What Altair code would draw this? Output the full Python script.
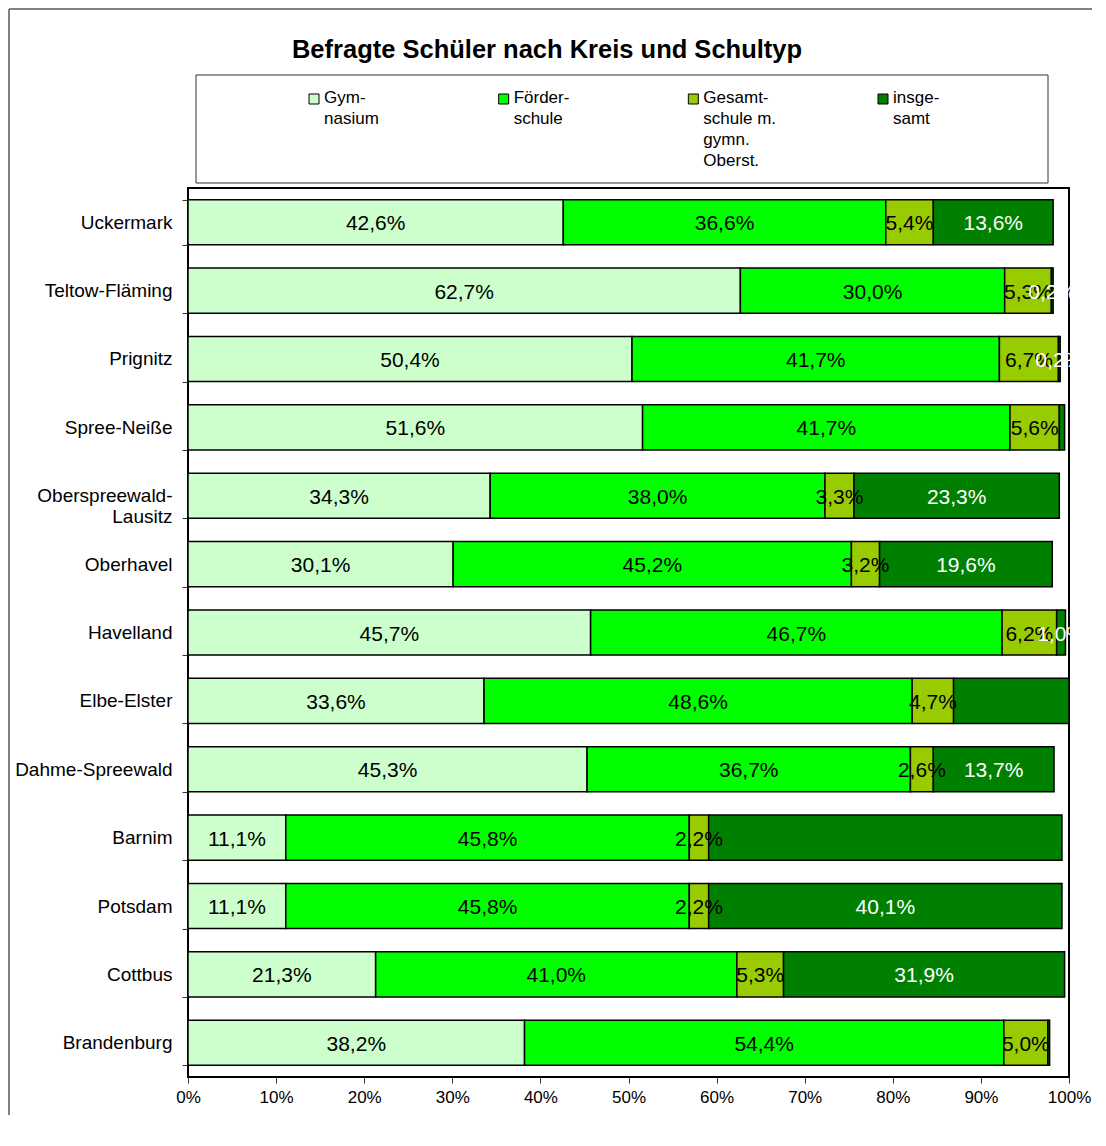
import altair as alt
import pandas as pd

districts = ["Uckermark", "Teltow-Fläming", "Prignitz", "Spree-Neiße",
             "Oberspreewald-Lausitz", "Oberhavel", "Havelland", "Elbe-Elster",
             "Dahme-Spreewald", "Barnim", "Potsdam", "Cottbus", "Brandenburg"]
types = ["Gymnasium", "Förderschule", "Gesamtschule m. gymn. Oberst.", "insgesamt"]
legend_labels = ["Gym-\nnasium", "Förder-\nschule", "Gesamt-\nschule m.\ngymn.\nOberst.", "insge-\nsamt"]
colors = ["#CCFFCC", "#00FF00", "#99CC00", "#008000"]
label_colors = ["black", "black", "black", "white"]

gymnasium = [42.6, 62.7, 50.4, 51.6, 34.3, 30.1, 45.7, 33.6, 45.3, 11.1, 11.1, 21.3, 38.2]
foerderschule = [36.6, 30.0, 41.7, 41.7, 38.0, 45.2, 46.7, 48.6, 36.7, 45.8, 45.8, 41.0, 54.4]
gesamtschule = [5.4, 5.3, 6.7, 5.6, 3.3, 3.2, 6.2, 4.7, 2.6, 2.2, 2.2, 5.3, 5.0]
insgesamt = [13.6, 0.2, 0.2, 0.6, 23.3, 19.6, 1.0, 13.1, 13.7, 40.1, 40.1, 31.9, 0.2]
# segments whose value label is not shown in the original
hidden_labels = {("Spree-Neiße", "insgesamt"), ("Elbe-Elster", "insgesamt"),
                 ("Barnim", "insgesamt"), ("Brandenburg", "insgesamt")}

series = [gymnasium, foerderschule, gesamtschule, insgesamt]
rows = []
for i, d in enumerate(districts):
    for k, t in enumerate(types):
        v = series[k][i]
        lab = "" if (d, t) in hidden_labels else f"{v:.1f}".replace(".", ",") + "%"
        rows.append({"district": d, "type": t, "order": k, "value": v,
                     "label": lab, "tcolor": label_colors[k]})
df = pd.DataFrame(rows)

leg_df = pd.DataFrame({"type": types, "legend_label": legend_labels})
one = pd.DataFrame({"a": [0]})

color_scale = alt.Scale(domain=types, range=colors)
nb = "\u00a0" * 8
y_label_expr = ("datum.label == 'Oberspreewald-Lausitz' ? "
                "['Oberspreewald-', 'Lausitz" + nb + "'] : datum.label")

base = alt.Chart(df).transform_stack(
    stack="value", groupby=["district"], sort=[alt.SortField("order")], as_=["x0", "x1"]
).transform_calculate(mid="(datum.x0 + datum.x1) / 2")

y_enc = alt.Y("district:N", sort=districts,
              scale=alt.Scale(paddingInner=0.34, paddingOuter=0.17),
              axis=alt.Axis(title=None, domain=False, ticks=True, tickBand="extent",
                            tickSize=6, tickColor="#333", labelPadding=10,
                            labelFontSize=19, labelColor="black",
                            labelLineHeight=21, labelExpr=y_label_expr))

bars = base.mark_bar(stroke="black", strokeWidth=1.5).encode(
    y=y_enc,
    x=alt.X("x0:Q", scale=alt.Scale(domain=[0, 100], nice=False),
            axis=alt.Axis(title=None, values=list(range(0, 101, 10)),
                          labelExpr="datum.value + '%'", domain=False, grid=False,
                          labelFlush=False, labelOverlap=False,
                          tickSize=6, tickColor="#333", labelFontSize=17,
                          labelPadding=6, labelColor="black")),
    x2="x1:Q",
    color=alt.Color("type:N", scale=color_scale, legend=None),
)

seg_text = base.mark_text(fontSize=21, baseline="middle", dy=2).encode(
    y=alt.Y("district:N", sort=districts),
    x=alt.X("mid:Q"),
    text="label:N",
    color=alt.Color("tcolor:N", scale=None),
)

bar_chart = alt.layer(bars, seg_text).properties(
    width=881, height=889,
    view=alt.ViewBackground(stroke="black", strokeWidth=2),
)

# legend panel (with title and outer frame as decoration)
leg_x = alt.X("type:N", sort=types, scale=alt.Scale(type="point", domain=types,
                                                    range=[126, 695], padding=0), axis=None)
symbols = alt.Chart(leg_df).mark_square(size=100, filled=True, stroke="black",
                                        strokeWidth=1, opacity=1).encode(
    x=leg_x, y=alt.value(24),
    color=alt.Color("type:N", scale=color_scale, legend=None),
)
leg_text = alt.Chart(leg_df).mark_text(align="left", baseline="top", dx=10,
                                       lineBreak="\n", lineHeight=21,
                                       fontSize=17, color="black").encode(
    x=leg_x, y=alt.value(15), text="legend_label:N",
)
box = alt.Chart(one).mark_rect(filled=False, stroke="#333", strokeWidth=1).encode(
    x=alt.value(8), x2=alt.value(860), y=alt.value(0), y2=alt.value(108)
)
title = alt.Chart(one).mark_text(text="Befragte Schüler nach Kreis und Schultyp",
                                 fontSize=25.5, fontWeight="bold", color="black",
                                 baseline="middle", align="center").encode(
    x=alt.value(359), y=alt.value(-25)
)
frame_left = alt.Chart(one).mark_rule(color="black", strokeWidth=1).encode(
    x=alt.value(-179), y=alt.value(-66), y2=alt.value(1040)
)
frame_top = alt.Chart(one).mark_rule(color="#808080", strokeWidth=2).encode(
    y=alt.value(-66), x=alt.value(-179), x2=alt.value(904)
)

legend_chart = alt.layer(frame_left, frame_top, box, title, symbols, leg_text).properties(
    width=881, height=108, view=alt.ViewBackground(stroke=None)
)

chart = alt.vconcat(legend_chart, bar_chart, spacing=5, bounds="flush").properties(
    padding=0
).configure(font="Liberation Sans").configure_view(stroke=None)

chart.save("out.html", embed_options={"renderer": "svg", "actions": False})
